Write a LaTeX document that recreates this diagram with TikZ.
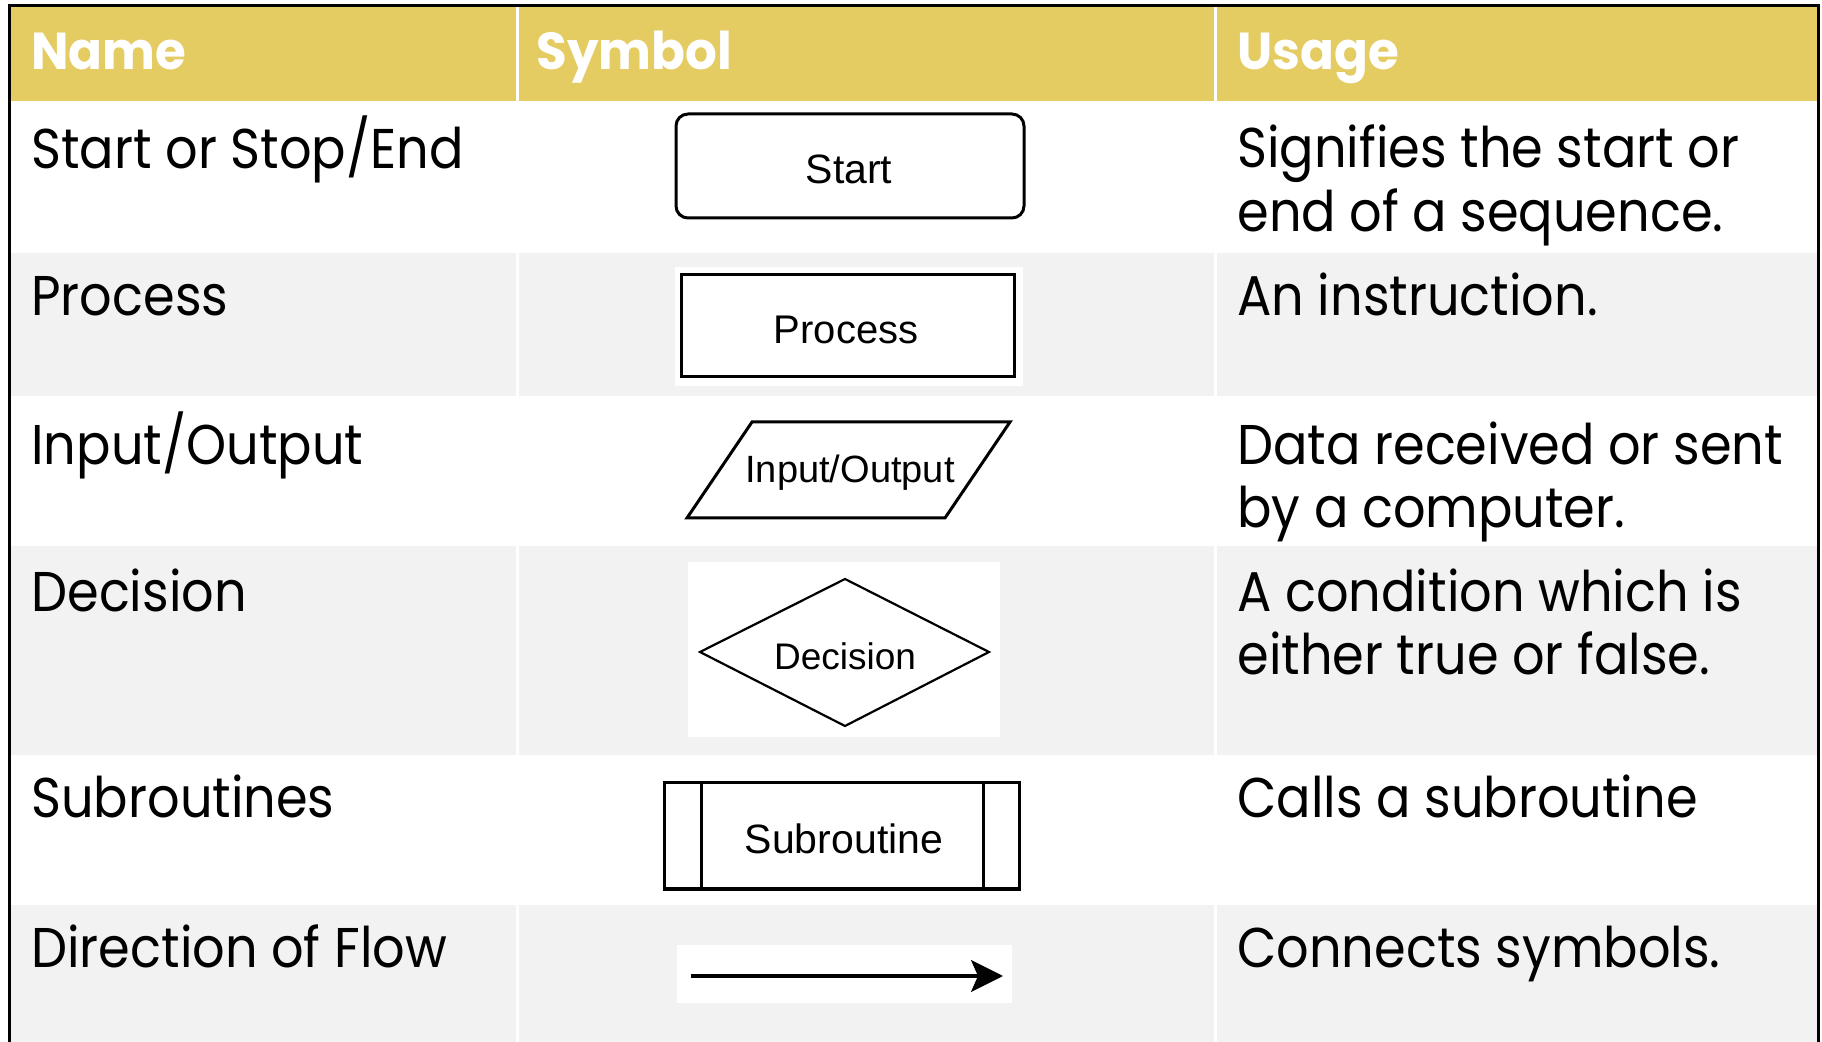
\documentclass[tikz,border=0pt]{standalone}
\usepackage{fontspec}
\setmainfont{Poppins}
\newfontfamily\bodyfont{Poppins}[FakeStretch=0.91]
\newfontfamily\hdrfont{Poppins}[FakeStretch=0.96]
\newfontfamily\helv{Liberation Sans}
\usetikzlibrary{arrows.meta}
\definecolor{hdr}{RGB}{228,203,98}
\definecolor{rowgray}{RGB}{242,242,242}
\tikzset{
  hdrtext/.style={anchor=base west, inner sep=0pt, text=white, font=\hdrfont\bfseries\fontsize{26}{30}\selectfont},
  bodytext/.style={anchor=base west, inner sep=0pt, text=black, font=\bodyfont\fontsize{28}{32}\selectfont},
  symline/.style={draw=black, line width=1.5pt},
  symlabel/.style={inner sep=0pt, text=black, font=\helv\fontsize{20}{24}\selectfont},
  whitebg/.style={fill=white, draw=none, inner sep=0pt}
}
\begin{document}
\begin{tikzpicture}[x=0.5pt,y=-0.5pt]
\useasboundingbox (0,0) rectangle (1822,1042);
\fill[white] (0,0) rectangle (1822,1042);
% rows
\fill[hdr] (9,6) rectangle (1818,101);
\fill[white] (9,101) rectangle (1818,253);
\fill[rowgray] (9,253) rectangle (1818,396);
\fill[white] (9,396) rectangle (1818,546);
\fill[rowgray] (9,546) rectangle (1818,755);
\fill[white] (9,755) rectangle (1818,905);
\fill[rowgray] (9,905) rectangle (1818,1042);
% column dividers
\draw[white, line width=1.5pt] (517,6) -- (517,1042);
\draw[white, line width=1.5pt] (1215,6) -- (1215,1042);
% outer border
\draw[black, line width=1.5pt] (9,1042) -- (9,6) -- (1818,6) -- (1818,1042);
% header
\node[hdrtext] (hname) at (31,70) {Name};
\node[hdrtext] (hsym) at (536,70) {Symbol};
\node[hdrtext] (huse) at (1237,70) {Usage};
% names
\node[bodytext] (n1) at (31,169) {Start or Stop/End};
\node[bodytext] (n2) at (31,316) {Process};
\node[bodytext] (n3) at (31,465) {Input/Output};
\node[bodytext] (n4) at (31,612) {Decision};
\node[bodytext] (n5) at (31,818) {Subroutines};
\node[bodytext] (n6) at (31,967) {Direction of Flow};
% usage
\node[bodytext] (u1a) at (1237,168) {Signifies the start or};
\node[bodytext] (u1b) at (1237,232) {end of a sequence.};
\node[bodytext] (u2) at (1237,316) {An instruction.};
\node[bodytext] (u3a) at (1237,465) {Data received or sent};
\node[bodytext] (u3b) at (1237,528) {by a computer.};
\node[bodytext] (u4a) at (1237,612) {A condition which is};
\node[bodytext] (u4b) at (1237,675) {either true or false.};
\node[bodytext] (u5) at (1237,818) {Calls a subroutine};
\node[bodytext] (u6) at (1237,967) {Connects symbols.};
% start symbol
\node[symline, rounded corners=6pt, minimum width=174pt, minimum height=52pt, inner sep=0pt] (start) at (850,166) {};
\node[symlabel, font=\helv\fontsize{20.5}{24}\selectfont] (startlabel) at (849,169) {Start};
% process symbol
\node[whitebg, minimum width=174pt, minimum height=59.5pt] (procbg) at (849,326.5) {};
\node[symline, minimum width=166.5pt, minimum height=51pt, inner sep=0pt] (proc) at (847.5,326) {};
\node[symlabel] (proclabel) at (846,330) {Process};
% input/output symbol
\coordinate (io1) at (752,422);
\coordinate (io2) at (1010,422);
\coordinate (io3) at (945,518);
\coordinate (io4) at (687,518);
\draw[symline, line join=miter] (io1) -- (io2) -- (io3) -- (io4) -- cycle;
\node[symlabel, font=\helv\fontsize{19}{23}\selectfont] (io) at (850,473) {Input/Output};
% decision symbol
\node[whitebg, minimum width=156pt, minimum height=87.5pt] (decbg) at (844,649.5) {};
\coordinate (dl) at (700,652);
\coordinate (dt) at (845,579);
\coordinate (dr) at (989,652);
\coordinate (db) at (845,726);
\draw[draw=black, line width=1.1pt, line join=miter] (dl) -- (dt) -- (dr) -- (db) -- cycle;
\node[symlabel, font=\helv\fontsize{18.5}{22}\selectfont] (dec) at (845,656) {Decision};
% subroutine symbol
\node[symline, minimum width=177.5pt, minimum height=53pt, inner sep=0pt] (sub) at (841.5,836) {};
\draw[symline] (701,783) -- (701,889);
\draw[symline] (983,783) -- (983,889);
\node[symlabel, font=\helv\fontsize{20.5}{24}\selectfont] (sublabel) at (844,839) {Subroutine};
% arrow symbol
\node[whitebg, minimum width=167.5pt, minimum height=29pt] (arrbg) at (844.5,974) {};
\coordinate (af) at (691,976);
\coordinate (at) at (1003,976);
\draw[black, line width=1.6pt, -{Stealth[length=16pt,width=16pt,inset=3.5pt]}] (af) -- (at);
\end{tikzpicture}
\end{document}
